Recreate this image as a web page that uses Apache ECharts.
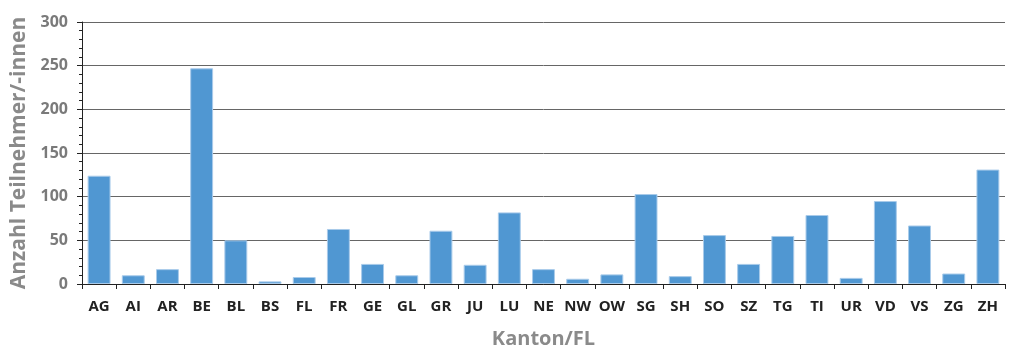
<!DOCTYPE html>
<html>
<head>
<meta charset="utf-8">
<script src="https://cdn.jsdelivr.net/npm/echarts@6/dist/echarts.min.js"></script>
<style>
  html, body { margin: 0; padding: 0; background: #fff; }
  #main { width: 1011px; height: 349px; }
</style>
</head>
<body>
<div id="main"></div>
<script>
// Kantone und Anzahl Teilnehmer/-innen
var kantone = ['AG', 'AI', 'AR', 'BE', 'BL', 'BS', 'FL', 'FR', 'GE', 'GL', 'GR', 'JU', 'LU', 'NE',
  'NW', 'OW', 'SG', 'SH', 'SO', 'SZ', 'TG', 'TI', 'UR', 'VD', 'VS', 'ZG', 'ZH'];
var teilnehmer = [124, 10, 17, 247, 50, 3, 8, 63, 23, 10, 61, 22, 82, 17,
  6, 11, 103, 9, 56, 23, 55, 79, 7, 95, 67, 12, 131];

var FONT = '"Open Sans", "Noto Sans", sans-serif';

var myChart = echarts.init(document.getElementById('main'));
var option = {
  animation: false,
  grid: {
    left: 82,
    right: 6,
    top: 22,
    bottom: 65,
    outerBoundsMode: 'none'
  },
  xAxis: {
    type: 'category',
    data: kantone,
    name: 'Kanton/FL',
    nameLocation: 'middle',
    nameGap: 45,
    nameTextStyle: { fontFamily: FONT, fontSize: 20, fontWeight: 'bold', color: '#8a8a8a' },
    axisLine: { lineStyle: { color: '#222', width: 1 } },
    axisTick: { show: true, interval: 0, length: 5, lineStyle: { color: '#222' } },
    axisLabel: { interval: 0, hideOverlap: false, fontFamily: FONT, fontSize: 15, fontWeight: 'bold', color: '#222', margin: 15 }
  },
  yAxis: {
    type: 'value',
    min: 0,
    max: 300,
    interval: 50,
    name: 'Anzahl Teilnehmer/-innen',
    nameLocation: 'middle',
    nameGap: 50,
    nameRotate: 90,
    nameTextStyle: { fontFamily: FONT, fontSize: 21, fontWeight: 'bold', color: '#8a8a8a' },
    axisLine: { show: true, lineStyle: { color: '#222', width: 1 } },
    axisTick: { show: true, length: 5, lineStyle: { color: '#222' } },
    minorTick: { show: true, splitNumber: 5, length: 3, lineStyle: { color: '#222' } },
    splitLine: { lineStyle: { color: '#666', width: 1 } },
    axisLabel: { fontFamily: FONT, fontSize: 16, fontWeight: 'bold', color: '#7a7a7a', margin: 14 }
  },
  series: [{
    type: 'bar',
    data: teilnehmer,
    barCategoryGap: '33%',
    itemStyle: {
      color: '#5097d2',
      borderColor: '#a9cbea',
      borderWidth: 1
    }
  }]
};
myChart.setOption(option);
</script>
</body>
</html>
